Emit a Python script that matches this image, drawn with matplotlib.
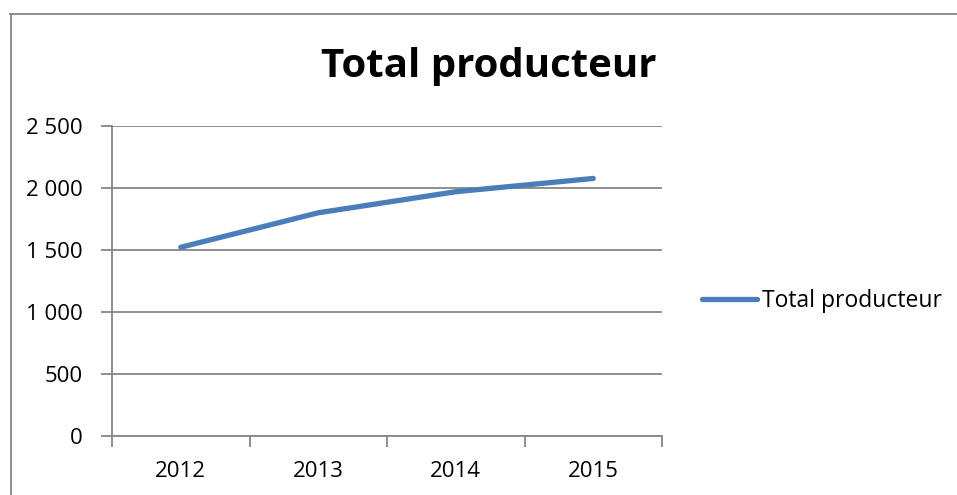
import matplotlib
matplotlib.use("Agg")
import matplotlib.pyplot as plt
from matplotlib.ticker import FuncFormatter, FixedLocator
from matplotlib.lines import Line2D

plt.rcParams['font.family'] = ['Open Sans', 'DejaVu Sans']

years = ["2012", "2013", "2014", "2015"]
values = [1522, 1800, 1970, 2077]
series_name = "Total producteur"
title = "Total producteur"
y_ticks = [0, 500, 1000, 1500, 2000, 2500]

W, H = 957, 495
fig = plt.figure(figsize=(W / 100, H / 100), dpi=100)
fig.patch.set_facecolor("white")

grey = "#868686"
blue = "#4a7ebb"
ax = fig.add_axes([112 / W, (H - 436) / H, (662 - 112) / W, (436 - 126) / H])

x = list(range(len(years)))
ax.plot(x, values, color=blue, linewidth=3.8, solid_capstyle="round",
        label=series_name, zorder=3)

ax.set_xlim(-0.5, len(years) - 0.5)
ax.set_ylim(0, 2500)
ax.yaxis.set_major_locator(FixedLocator(y_ticks))
ax.yaxis.set_major_formatter(FuncFormatter(lambda v, p: f"{int(v):,}".replace(",", " ")))

ax.set_xticks([i - 0.5 for i in range(len(years) + 1)])
ax.set_xticklabels([])
ax.set_xticks(x, minor=True)
ax.set_xticklabels(years, minor=True)
ax.tick_params(axis="x", which="major", length=8, width=1.3, color=grey, direction="out")
ax.tick_params(axis="x", which="minor", length=0, pad=18, labelsize=16)
ax.tick_params(axis="y", length=8, width=1.3, color=grey, direction="out", pad=13, labelsize=16)

ax.grid(axis="y", color=grey, linewidth=1.3, zorder=1)
for s in ["top", "right"]:
    ax.spines[s].set_visible(False)
for s in ["left", "bottom"]:
    ax.spines[s].set_color(grey)
    ax.spines[s].set_linewidth(1.3)

fig.text(489 / W, 1 - 66 / H, title, ha="center", va="center",
         fontsize=29, fontweight="bold")

fig.legend(handles=[Line2D([0], [0], color=blue, linewidth=3.8, solid_capstyle="round")],
           labels=[series_name], loc="center left",
           bbox_to_anchor=(702 / W, 1 - 301 / H), frameon=False, fontsize=16.5,
           handlelength=2.4, handletextpad=0.2, borderaxespad=0, borderpad=0)

# outer chart border
fig.add_artist(Line2D([10.5 / W, 10.5 / W], [0, 1 - 14 / H], transform=fig.transFigure,
                      color=grey, linewidth=1.3))
fig.add_artist(Line2D([10 / W, 1], [1 - 14 / H, 1 - 14 / H], transform=fig.transFigure,
                      color=grey, linewidth=1.3))

fig.savefig("out.png", dpi=100, facecolor="white")
